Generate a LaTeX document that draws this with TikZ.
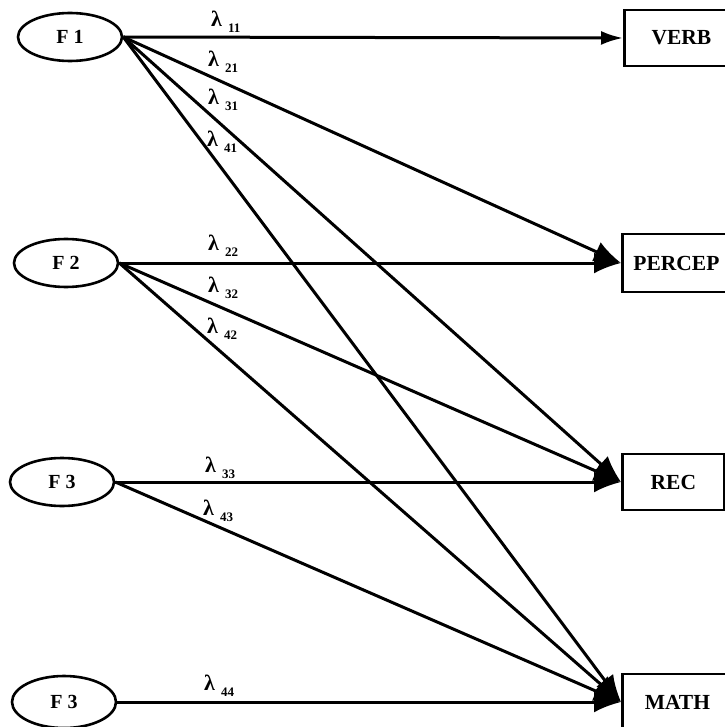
\documentclass[tikz,border=0pt]{standalone}
\usepackage{fontspec}
\setmainfont{Liberation Serif}
\usetikzlibrary{arrows.meta,shapes.geometric,positioning}
\newcommand{\lam}[1]{λ\hspace{6pt}\raisebox{-6pt}{\fontsize{13}{13}\selectfont #1}}

\begin{document}
\begin{tikzpicture}[
    x=1pt, y=-1pt,
    factor/.style={ellipse, draw, line width=2.6pt, minimum width=104pt, minimum height=48pt, inner sep=0pt, font=\fontsize{20}{22}\selectfont\bfseries},
    measure/.style={rectangle, draw, line width=2.8pt, minimum width=114pt, minimum height=56pt, anchor=west, font=\fontsize{21.5}{24}\selectfont\bfseries},
    lbl/.style={anchor=base west, inner sep=0pt, font=\fontsize{22}{24}\selectfont\bfseries},
    arrow/.style={-{Latex[length=27pt,width=21pt]}, line width=3pt},
    thinarrow/.style={-{Latex[length=22pt,width=14pt]}, line width=3pt}
]
    \useasboundingbox (0,0) rectangle (724,727);

    % Factors
    \node[factor] (F1) at (70,37) {F 1};
    \node[factor] (F2) at (66,263) {F 2};
    \node[factor] (F3) at (62,482) {F 3};
    \node[factor, minimum height=52pt] (F4) at (64,702) {F 3};

    % Observed measures
    \node[measure] (verb) at (623,38) {VERB};
    \node[measure, minimum width=108pt, minimum height=58pt] (percep) at (621,263) {PERCEP};
    \node[measure, minimum width=102pt] (rec) at (621,482) {REC};
    \node[measure, minimum width=110pt] (math) at (621,702) {MATH};

    % Loadings
    \draw[thinarrow] (F1.east) -- (verb.west);
    \draw[arrow] (F1.east) -- (percep.west);
    \draw[arrow] (F1.east) -- (rec.west);
    \draw[arrow] (F1.east) -- (math.west);
    \draw[arrow] (F2.east) -- (percep.west);
    \draw[arrow] (F2.east) -- (rec.west);
    \draw[arrow] (F2.east) -- (math.west);
    \draw[arrow] (F3.east) -- (rec.west);
    \draw[arrow] (F3.east) -- (math.west);
    \draw[arrow] (F4.east) -- (math.west);

    % Labels
    \node[lbl] (l11) at (211,27) {\lam{11}};
    \node[lbl] (l21) at (208,67) {\lam{21}};
    \node[lbl] (l31) at (208,105) {\lam{31}};
    \node[lbl] (l41) at (207,147) {\lam{41}};
    \node[lbl] (l22) at (208,250) {\lam{22}};
    \node[lbl] (l32) at (208,292) {\lam{32}};
    \node[lbl] (l42) at (207,333) {\lam{42}};
    \node[lbl] (l33) at (205,472) {\lam{33}};
    \node[lbl] (l43) at (203,515) {\lam{43}};
    \node[lbl] (l44) at (204,690) {\lam{44}};
\end{tikzpicture}
\end{document}
